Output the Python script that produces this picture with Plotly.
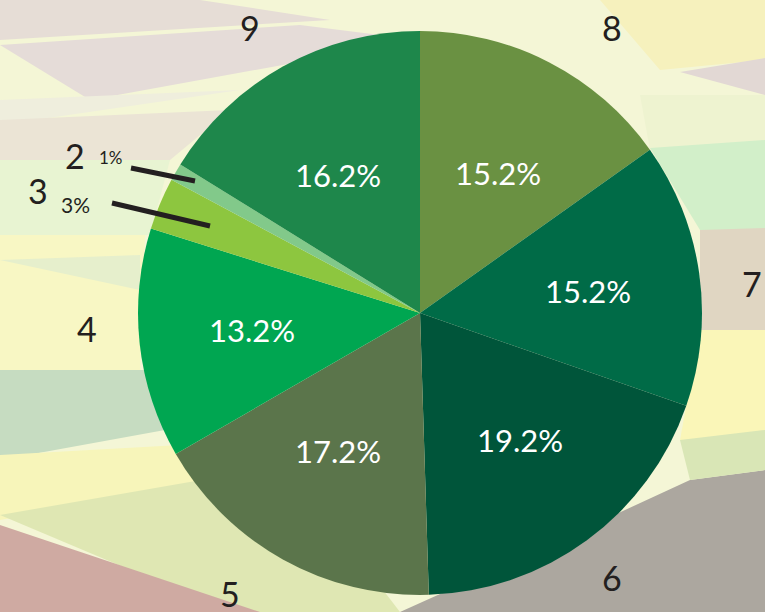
import math
import plotly.graph_objects as go

# slices, clockwise from 12 o'clock
labels = ["8", "7", "6", "5", "4", "3", "2", "9"]
values = [15.2, 15.2, 19.2, 17.2, 13.2, 3, 1, 16.2]
colors = ["#6a9142", "#006b47", "#00553a", "#5b754b", "#00a651", "#8dc63f", "#82c98a", "#1e874b"]
small = ["3", "2"]  # slices labelled outside with a leader line

W, H = 765, 612
cx, cy, r = 420, 313, 282

fig = go.Figure(go.Pie(
    labels=labels, values=values, sort=False, direction="clockwise", rotation=0,
    marker=dict(colors=colors, line=dict(width=0)),
    textinfo="none",
    domain=dict(x=[(cx - r) / W, (cx + r) / W], y=[(H - cy - r) / H, (H - cy + r) / H]),
    showlegend=False, hoverinfo="label+percent",
))

# pastel polygon backdrop
bg = [
    ("#e6ddd6", [(0, 0), (200, 0), (330, 20), (0, 40)]),
    ("#e5dcd8", [(0, 45), (300, 25), (420, 40), (90, 100)]),
    ("#efeedd", [(0, 100), (240, 90), (0, 125)]),
    ("#ebe4d5", [(0, 120), (230, 110), (170, 160), (0, 165)]),
    ("#e8f4d2", [(0, 160), (170, 160), (150, 235), (0, 240)]),
    ("#f8f7c4", [(0, 235), (145, 235), (140, 375), (0, 370)]),
    ("#e6efcc", [(0, 260), (140, 255), (140, 290)]),
    ("#c6dcc1", [(0, 370), (150, 370), (165, 430), (0, 460)]),
    ("#f7f5ba", [(0, 455), (180, 445), (230, 480), (0, 520)]),
    ("#dfe7b3", [(0, 515), (230, 475), (360, 560), (400, 612), (230, 612)]),
    ("#cfaaa2", [(0, 525), (260, 612), (0, 612)]),
    ("#aca79f", [(400, 612), (560, 540), (690, 480), (765, 470), (765, 612)]),
    ("#f6f1bd", [(600, 0), (765, 0), (765, 60), (660, 70)]),
    ("#e2d8d4", [(680, 72), (765, 58), (765, 95)]),
    ("#eef3d0", [(640, 95), (765, 95), (765, 145), (650, 150)]),
    ("#d2efc9", [(650, 148), (765, 140), (765, 230), (700, 230)]),
    ("#e0d6c2", [(700, 230), (765, 228), (765, 330), (700, 330)]),
    ("#faf6b8", [(700, 330), (765, 330), (765, 440), (680, 440)]),
    ("#d9e6b6", [(680, 440), (765, 430), (765, 470), (690, 480)]),
]
shapes = []
for col, pts in bg:
    path = "M " + " L ".join(f"{x / W},{1 - y / H}" for x, y in pts) + " Z"
    shapes.append(dict(type="path", path=path, xref="paper", yref="paper",
                       fillcolor=col, line=dict(width=0), layer="below"))

# leader lines for the two thin slices
for (x0, y0), (x1, y1) in [((131, 168), (195, 181)), ((112, 203), (210, 226))]:
    shapes.append(dict(type="line", xref="paper", yref="paper",
                       x0=x0 / W, y0=1 - y0 / H, x1=x1 / W, y1=1 - y1 / H,
                       line=dict(color="#231f20", width=5)))

annotations = []


def note(x, y, text, size, color):
    annotations.append(dict(x=x / W, y=1 - y / H, xref="paper", yref="paper", text=text,
                            xanchor="center", yanchor="middle", showarrow=False,
                            font=dict(family="Lato", size=size, color=color)))


# percentage labels inside the big slices, placed along each slice's mid-angle
total = sum(values)
acc = 0
for l, v in zip(labels, values):
    mid = (acc + v / 2) / total * 2 * math.pi
    acc += v
    if l in small:
        continue
    px = cx + 0.6 * r * math.sin(mid)
    py = cy - 0.56 * r * math.cos(mid)
    note(px, py, f"{v}%", 31, "white")

name_pos = {"9": (250, 28), "8": (612, 28), "7": (752, 283), "6": (612, 577),
            "5": (230, 593), "4": (87, 328), "3": (38, 190), "2": (75, 155)}
for l in labels:
    x, y = name_pos[l]
    note(x, y, l, 34, "#231f20")

small_pos = {"2": (111, 158), "3": (75, 205)}
small_size = {"2": 17, "3": 21}
for l, v in zip(labels, values):
    if l in small:
        x, y = small_pos[l]
        note(x, y, f"{v}%", small_size[l], "#231f20")

fig.update_layout(
    width=W, height=H, margin=dict(l=0, r=0, t=0, b=0),
    paper_bgcolor="#f4f6d6", plot_bgcolor="#f4f6d6",
    shapes=shapes, annotations=annotations,
)

fig.write_html("out.html", config={"displayModeBar": False},
               post_script="document.body.style.margin='0';")
